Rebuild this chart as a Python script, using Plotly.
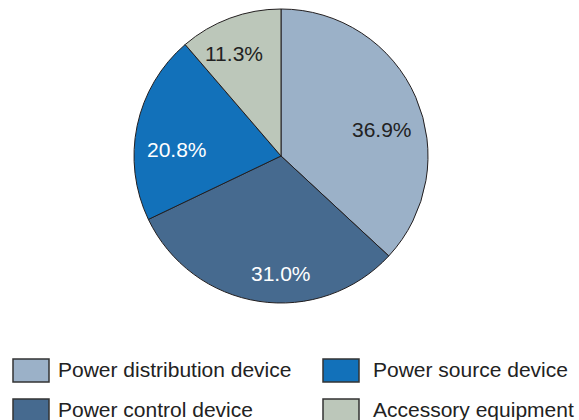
import plotly.graph_objects as go

categories = ["Power distribution device", "Power control device",
              "Power source device", "Accessory equipment"]
shares = [36.9, 31.0, 20.8, 11.3]
colors = ["#9BB1C8", "#466A8F", "#1271BA", "#BCC7BA"]
label_colors = ["#222222", "#FFFFFF", "#FFFFFF", "#222222"]

W, H = 579, 420
cx, cy, r = 281, 156, 147
FONT = "Liberation Sans, Arial, sans-serif"

fig = go.Figure(go.Pie(
    labels=categories,
    values=shares,
    sort=False,
    direction="clockwise",
    rotation=0,
    marker=dict(colors=colors, line=dict(color="#231F20", width=1)),
    textinfo="none",
    showlegend=False,
    domain=dict(x=[(cx - r) / W, (cx + r) / W], y=[(H - cy - r) / H, (H - cy + r) / H]),
    hoverinfo="skip",
))

# Percentage labels placed inside each slice (pixel centres)
label_pos = [(382, 129), (281, 273), (177, 150), (234, 53)]
for v, (px, py), tc in zip(shares, label_pos, label_colors):
    fig.add_annotation(xref="paper", yref="paper", x=px / W, y=(H - py) / H,
                       text=f"{v:.1f}%", showarrow=False, xanchor="center", yanchor="middle",
                       font=dict(family=FONT, size=21, color=tc))

# Legend drawn as two columns of swatches with labels
col_x = [13, 323]
text_x = [56, 371]
row_y = [370.5, 410.5]
box_w, box_h = 36, 23
order = [(0, 0), (0, 1), (1, 0), (1, 1)]  # (column, row) for each category
for name, c, (col, row) in zip(categories, colors, order):
    x0 = col_x[col]
    yc = row_y[row]
    fig.add_shape(type="rect", xref="paper", yref="paper",
                  x0=x0 / W, x1=(x0 + box_w) / W,
                  y0=(H - yc - box_h / 2) / H, y1=(H - yc + box_h / 2) / H,
                  fillcolor=c, line=dict(color="#333333", width=1.5))
    fig.add_annotation(xref="paper", yref="paper", x=text_x[col] / W, y=(H - yc + 1.5) / H,
                       text=name, showarrow=False, xanchor="left", yanchor="middle",
                       font=dict(family=FONT, size=21, color="#222222"))

fig.update_layout(width=W, height=H, margin=dict(l=0, r=0, t=0, b=0),
                  paper_bgcolor="white", plot_bgcolor="white")
fig.write_html("out.html")
